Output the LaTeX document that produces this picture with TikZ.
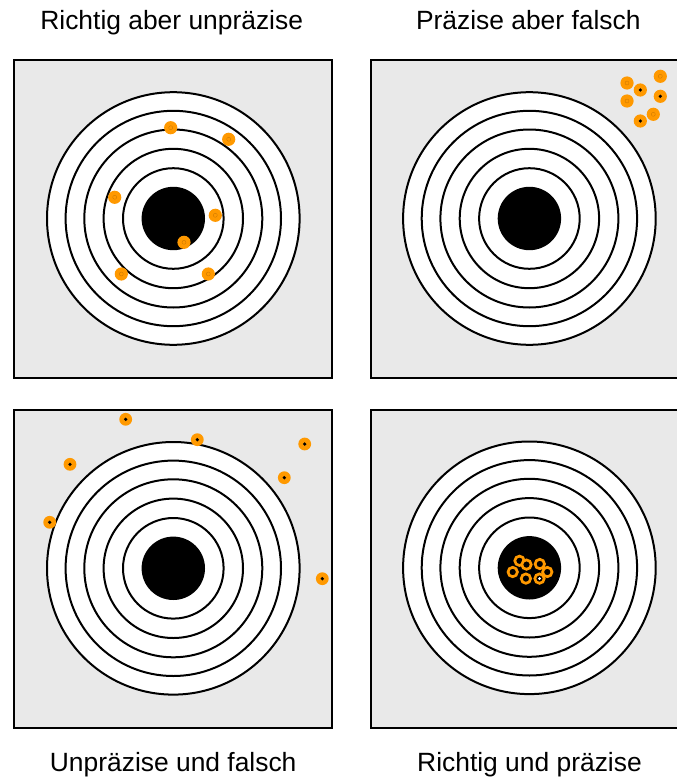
\documentclass[tikz,border=0pt]{standalone}
\usepackage{fontspec}
\setmainfont{Liberation Sans}
\definecolor{panelgray}{RGB}{233,233,233}
\definecolor{hitorange}{RGB}{255,153,0}
\definecolor{hitedge}{RGB}{205,120,0}
\tikzset{
  panel/.style={fill=panelgray, draw=black, line width=2bp},
  ringline/.style={draw=black, fill=white, line width=2bp},
  bull/.style={fill=black},
  hit/.style={fill=hitorange},
  hitmark/.style={draw=hitedge, line width=0.35bp},
  blackdot/.style={fill=black},
  hollowhit/.style={draw=hitorange, fill=black, line width=2.7bp},
  title/.style={anchor=base, inner sep=0pt, font=\fontsize{26.4bp}{31bp}\selectfont}
}
\newcommand\drawtarget[2]{%
  \foreach \rr in {126.3,107.7,89,69.7,50.3} {\draw[ringline] (#1,#2) circle (\rr);}
  \fill[bull] (#1,#2) circle (31.7);
}
\begin{document}
\begin{tikzpicture}[x=1bp,y=-1bp]
\useasboundingbox (0,0) rectangle (677,780);
\clip (0,0) rectangle (677,780);
\fill[white] (0,0) rectangle (677,780);
% panels
\draw[panel] (14,60) rectangle (332,378);
\draw[panel] (371,60) rectangle (689,378);
\draw[panel] (14,409.5) rectangle (332,727.5);
\draw[panel] (371,409.5) rectangle (689,727.5);
% targets
\drawtarget{173.3}{218.5}
\drawtarget{529.4}{218.5}
\drawtarget{173.3}{568.3}
\drawtarget{529.4}{567.8}
% titles
\node[title] (t1) at (171.7,30) {Richtig aber unpräzise};
\node[title] (t2) at (528.3,30) {Präzise aber falsch};
\node[title] (t3) at (173.2,771.7) {Unpräzise und falsch};
\node[title] (t4) at (529.5,771.7) {Richtig und präzise};
% top-left hits
\foreach \px/\py in {170.7/127.7, 228.7/139.3, 114.7/197.3, 215.3/215.3, 184/242.3, 121.3/274, 208.3/274} {
  \fill[hit] (\px,\py) circle (6.6);
  \draw[hitmark] (\px,\py) circle (2);
}
% top-right hits
\foreach \px/\py in {627/83, 660.3/76.3, 627/101, 653.3/114.3} {
  \fill[hit] (\px,\py) circle (6.6);
  \draw[hitmark] (\px,\py) circle (2);
}
\foreach \px/\py in {640.3/90, 660.3/96.3, 640.3/121} {
  \fill[hit] (\px,\py) circle (6.6);
  \fill[blackdot] (\px,\py) circle (1.8);
}
% bottom-left hits
\foreach \px/\py in {125.7/419.3, 197.3/439.7, 304.7/444, 70/464.3, 284.3/477.7, 49.7/522.3, 322.3/578.7} {
  \fill[hit] (\px,\py) circle (6.4);
  \fill[blackdot] (\px,\py) circle (1.8);
}
% bottom-right hits
\foreach \px/\py in {519.5/560.8, 526.5/564.6, 539.8/564, 547.3/572, 512.7/572, 525.9/578.6} {
  \draw[hollowhit] (\px,\py) circle (4.7);
  \fill[blackdot] (\px,\py) circle (1.6);
}
\draw[hollowhit] (539.5,578.6) circle (4.7);
\fill[white] (539.5,578.6) circle (1.6);
\end{tikzpicture}
\end{document}
